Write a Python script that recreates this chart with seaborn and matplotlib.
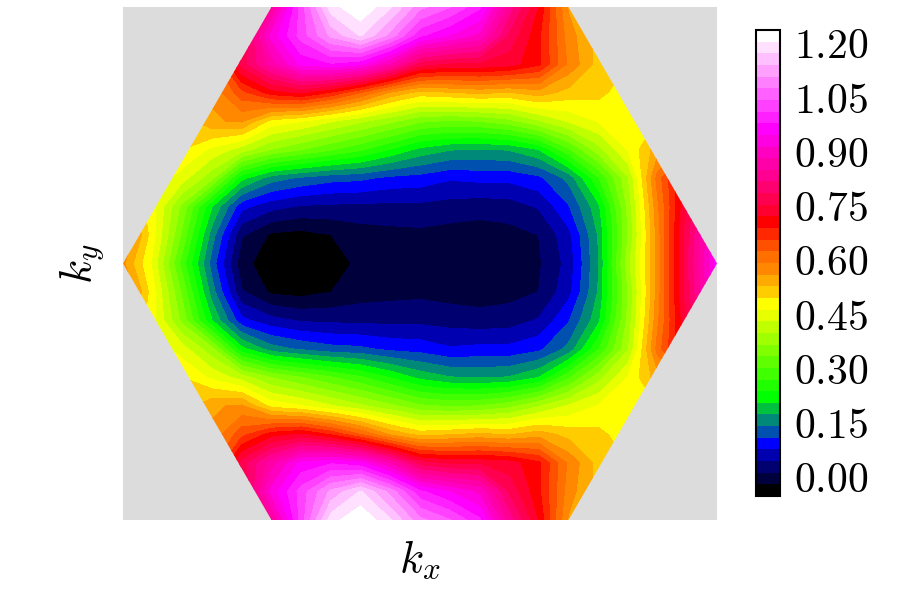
import numpy as np
import matplotlib
matplotlib.use("Agg")
import matplotlib.pyplot as plt
from matplotlib.colors import ListedColormap
from matplotlib.patches import Polygon
from matplotlib.transforms import ScaledTranslation
import seaborn as sns

sns.set_style("white")
plt.rcParams["mathtext.fontset"] = "cm"
plt.rcParams["text.color"] = "black"
plt.rcParams["axes.labelcolor"] = "black"
plt.rcParams["ytick.labelcolor"] = "black"

# values, top row first, columns left to right
row_01 = [.50, .50, .55, .60, .70, .85, 1.03, 1.195, 1.238, 1.18, 1.09, 1.05, .99, .84, .72, .56, .50, .50, .50, .50, .50]
row_02 = [.50, .50, .55, .65, .75, .93, 1.03, 1.12, 1.18, 1.10, .99, .95, .91, .78, .70, .58, .52, .50, .50, .50, .50]
row_03 = [.50, .50, .52, .60, .77, .87, .96, .98, .96, .88, .77, .75, .75, .74, .70, .59, .52, .50, .50, .50, .50]
row_04 = [.50, .50, .52, .57, .65, .71, .73, .69, .63, .56, .52, .53, .54, .53, .55, .52, .51, .48, .50, .50, .50]
row_05 = [.50, .50, .51, .56, .57, .49, .47, .44, .41, .38, .345, .335, .34, .36, .40, .44, .47, .49, .50, .50, .50]
row_06 = [.50, .50, .50, .46, .42, .37, .34, .31, .28, .24, .20, .18, .175, .18, .21, .30, .39, .47, .55, .60, .60]
row_07 = [.50, .50, .45, .38, .22, .16, .14, .125, .12, .105, .10, .085, .09, .09, .105, .155, .27, .40, .61, .75, .80]
row_08 = [.55, .48, .36, .21, .09, .06, .045, .042, .04, .04, .04, .035, .03, .033, .052, .11, .20, .38, .59, .76, .90]
row_09 = [.62, .48, .33, .16, .02, -.022, -.028, -.016, .00, .005, .008, .003, .00, .005, .017, .07, .18, .37, .58, .78, .95]
row_10 = [.57, .46, .29, .13, -.005, -.035, -.045, -.035, -.007, .00, .00, .00, -.005, -.01, .012, .06, .175, .39, .58, .78, .97]
row_11 = row_09
row_12 = row_08
row_13 = row_07
row_14 = row_06
row_15 = row_05
row_16 = row_04
row_17 = row_03
row_18 = row_02
row_19 = row_01

band_colors = [
    "#000000", "#00003c", "#000070", "#0000b0", "#0000ff", "#0050b0", "#008878", "#00c040",
    "#00ff00", "#20ff00", "#40ff00", "#60ff00", "#80ff00", "#a0ff00", "#c0ff00", "#e8ff00",
    "#ffff00", "#ffcc00", "#ffaa00", "#ff8800", "#ff7000", "#ff5000", "#ff2800", "#ff0000",
    "#ff0030", "#ff0050", "#ff0070", "#ff0090", "#ff00a8", "#ff00c0", "#ff00e0", "#ff00ff",
    "#ff20ff", "#ff40ff", "#ff60ff", "#ff80ff", "#ffa0ff", "#ffc0ff", "#ffe0ff", "#ffffff",
]
cbar_ticks = [0.00, 0.15, 0.30, 0.45, 0.60, 0.75, 0.90, 1.05, 1.20]

grid = np.array([row_01, row_02, row_03, row_04, row_05, row_06, row_07, row_08, row_09, row_10,
                 row_11, row_12, row_13, row_14, row_15, row_16, row_17, row_18, row_19])

kx_max = 4 * np.pi / 3
ky_max = 2 * np.pi / np.sqrt(3)
kx = np.linspace(-kx_max, kx_max, grid.shape[1])
ky = np.linspace(ky_max, -ky_max, grid.shape[0])
levels = np.linspace(-0.048, 1.2415, len(band_colors) + 1)
cmap = ListedColormap(sns.color_palette(band_colors, n_colors=len(band_colors)))

fig = plt.figure(figsize=(9, 6), dpi=100)
ax = fig.add_axes([123 / 900, 80 / 600, 594 / 900, 513 / 600])
cax = fig.add_axes([756 / 900, 104 / 600, 24 / 900, 466 / 600])

ax.set_facecolor("#dcdcdc")
cs = ax.contourf(kx, ky, grid, levels=levels, cmap=cmap, antialiased=False)

# first Brillouin zone
hexagon = Polygon(
    [(-kx_max, 0), (-kx_max / 2, ky_max), (kx_max / 2, ky_max), (kx_max, 0), (kx_max / 2, -ky_max), (-kx_max / 2, -ky_max)],
    closed=True, facecolor="none", edgecolor="none", transform=ax.transData,
)
ax.add_patch(hexagon)
cs.set_clip_path(hexagon)

ax.set_xlim(-kx_max, kx_max)
ax.set_ylim(-ky_max, ky_max)
ax.set_xticks([])
ax.set_yticks([])
sns.despine(ax=ax, left=True, bottom=True)
ax.set_xlabel("$k_x$", fontsize=32, labelpad=13)
ax.set_ylabel("$k_y$", fontsize=32, labelpad=12)

cbar = fig.colorbar(cs, cax=cax, ticks=cbar_ticks)
cbar.ax.set_yticklabels([f"${t:.2f}$" for t in cbar_ticks])
cbar.ax.tick_params(axis="y", direction="in", length=11.5, width=1.5, pad=10, labelsize=30, right=True, color="black")
cbar.outline.set_linewidth(1.5)
cbar.outline.set_edgecolor("black")

# labels sit a little above their ticks
shift = ScaledTranslation(0, 3 / 100, fig.dpi_scale_trans)
for label in cbar.ax.get_yticklabels():
    label.set_transform(label.get_transform() + shift)

fig.savefig("out.png", dpi=100)
